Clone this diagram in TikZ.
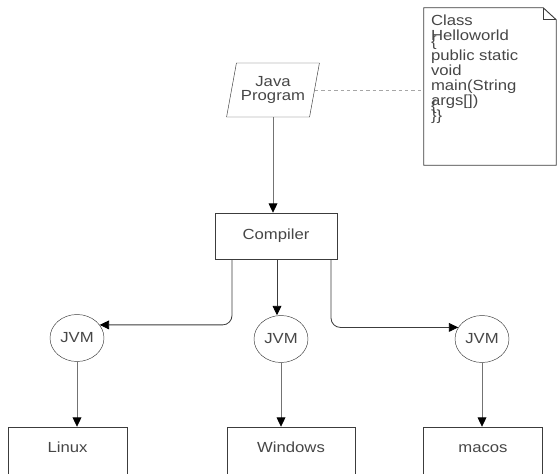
\documentclass[tikz,border=0pt]{standalone}
\usepackage{fontspec}
\setmainfont{Liberation Sans}[FakeStretch=1.14]
\usepackage{tikz}
\usetikzlibrary{shapes.geometric, arrows.meta, positioning}
\newcommand{\upx}{0.03cm}
\definecolor{trazo}{RGB}{60,60,60}
\definecolor{texto}{RGB}{70,70,70}
\tikzset{
  entrada/.style={trapezium, trapezium left angle=72, trapezium right angle=108,
    trapezium stretches=true, draw=trazo, minimum width=93*\upx,
    minimum height=54*\upx, inner sep=0pt, align=center, text=texto,
    font=\fontsize{12.5}{11.5}\selectfont},
  proceso/.style={rectangle, draw=trazo, minimum width=122*\upx,
    minimum height=46*\upx, text=texto, font=\fontsize{12.5}{13.5}\selectfont},
  maquina/.style={ellipse, draw=trazo, minimum width=54*\upx,
    minimum height=47*\upx, inner sep=0pt, text=texto,
    font=\fontsize{12.5}{13.5}\selectfont},
  sistema/.style={rectangle, draw=trazo, anchor=base, inner sep=0pt,
    text height=25*\upx, text depth=32*\upx, minimum width=119*\upx,
    text=texto, font=\fontsize{12.5}{13.5}\selectfont},
  nota/.style={rectangle, draw=none, minimum width=132*\upx,
    minimum height=157*\upx, inner sep=0pt},
  codigo/.style={anchor=north west, inner sep=0pt, align=left, text=texto,
    font=\fontsize{12.5}{12.8}\selectfont},
  flecha/.style={-{Triangle[length=8pt, width=7.5pt, color=black]},
    color=black!55, line width=0.7pt},
  rama/.style={flecha, color=trazo, rounded corners=8pt},
  enlace/.style={dashed, dash pattern=on 3pt off 2.5pt, color=black!35,
    line width=0.6pt}
}
\begin{document}
\begin{tikzpicture}[x=0.03cm, y=-0.03cm]
  \useasboundingbox (0,0) rectangle (557,473);
  \clip (0,0) rectangle (557,473);
  \node[entrada] (prog) at (273,90) {Java\\Program};
  \node[nota] (note) at (490,86.5) {};
  \draw[trazo, line width=0.8pt] (note.south west) -- (note.north west)
    -- ([shift={(-13,0)}]note.north east) -- ([shift={(0,12)}]note.north east)
    -- (note.south east) -- cycle;
  \draw[trazo, line width=0.6pt] ([shift={(-13,0)}]note.north east)
    |- ([shift={(0,12)}]note.north east);
  \node[codigo] (code) at ([shift={(7,7)}]note.north west)
    {Class\\Helloworld\\[-8pt]\{\\[-1pt]public static\\void\\main(String\\args[])\\[-8.5pt]\{\\[-4pt]\}\}};
  \node[proceso] (comp) at (276,236) {Compiler};
  \node[maquina] (jvmL) at (77,338) {JVM};
  \node[maquina] (jvmM) at (281,339) {JVM};
  \node[maquina] (jvmR) at (482,339) {JVM};
  \node[sistema] (linux) at (67.5,452) {Linux};
  \node[sistema, minimum width=128*\upx] (win) at (291,452) {Windows};
  \node[sistema] (mac) at (483,452) {macos};
  % conexiones
  \draw[enlace] (prog.east) -- (prog.east -| note.west);
  \draw[flecha] (prog.south) -- (prog.south |- comp.north);
  \draw[rama] ([shift={(-44,0)}]comp.south) |- (jvmL.30);
  \draw[rama] ([shift={(1,0)}]comp.south) -- ([shift={(1,0)}]comp.south |- jvmM.north);
  \draw[rama] ([shift={(55,0)}]comp.south) |- (jvmR.154);
  \draw[flecha] (jvmL.south) -- (jvmL.south |- linux.north);
  \draw[flecha] (jvmM.south) -- (jvmM.south |- win.north);
  \draw[flecha] (jvmR.south) -- (jvmR.south |- mac.north);
\end{tikzpicture}
\end{document}
